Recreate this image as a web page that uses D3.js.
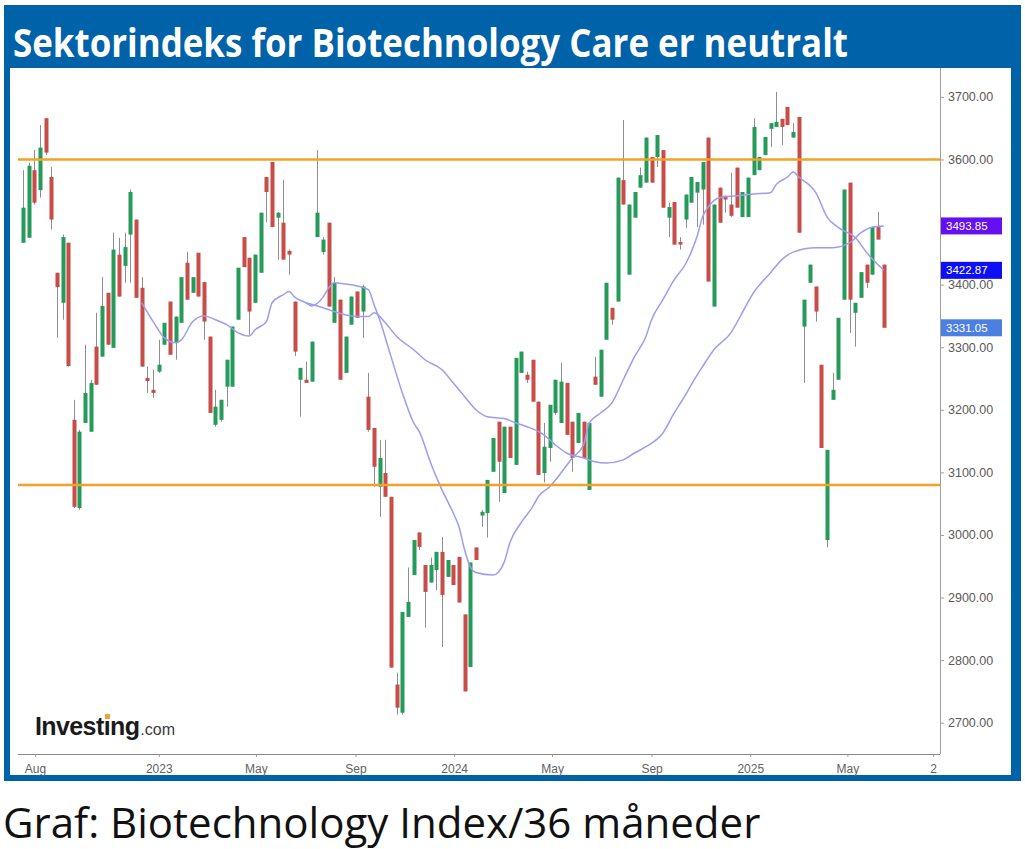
<!DOCTYPE html>
<html>
<head>
<meta charset="utf-8">
<script src="https://cdn.jsdelivr.net/npm/d3@7"></script>
<style>
  html, body { margin: 0; padding: 0; background: #fff; }
  svg { display: block; }
</style>
</head>
<body>
<svg id="chart" width="1025" height="849"></svg>
<script>
// ---------------- DATA ----------------
const titleText = "Sektorindeks for Biotechnology Care er neutralt";
const captionText = "Graf: Biotechnology Index/36 måneder";
const firstWeek = "2022-07-17";

const opens = [3467,3475,3583,3551,3666,3572,3419,3371,3467,3184,3043,3179,3165,3301,3285,3387,3299,3448,3430,3480,
  3504,3395,3251,3232,3261,3304,3373,3307,3339,3435,3387,3451,3404,3317,3176,3184,3237,3237,3344,3476,
  3443,3371,3419,3572,3596,3507,3499,3454,3373,3248,3248,3245,3476,3452,3499,3339,3376,3259,3336,3389,
  3357,3221,3171,3077,3099,3061,2761,2716,2869,2936,3004,2952,2924,2944,2973,2933,2952,2965,2873,2789,
  2980,3031,3035,3101,3181,3067,3173,3112,3259,3256,3280,3213,3099,3139,3195,3179,3243,3181,3147,3181,
  3072,3253,3221,3312,3363,3373,3567,3416,3507,3555,3563,3604,3604,3615,3507,3532,3468,3504,3531,3547,
  3552,3635,3365,3555,3542,3528,3587,3508,3508,3575,3583,3607,3649,3652,3665,3684,3635,3668,3333,3403,
  3397,3272,2992,3216,3248,3376,3563,3355,3379,3432,3416,3492,3432];
const highs = [3583,3595,3615,3655,3666,3588,3419,3480,3467,3216,3168,3304,3248,3355,3412,3387,3483,3475,3483,3552,
  3504,3412,3269,3264,3312,3339,3373,3349,3412,3452,3412,3451,3404,3317,3232,3216,3280,3333,3427,3476,
  3443,3448,3515,3572,3596,3516,3567,3456,3373,3267,3277,3309,3615,3476,3499,3412,3376,3317,3381,3389,
  3400,3259,3171,3152,3152,3061,2780,2877,2948,2992,3004,2952,2964,2973,2997,2960,2952,2965,2873,2956,
  2980,3040,3088,3155,3181,3173,3173,3283,3293,3261,3280,3213,3179,3208,3248,3275,3243,3181,3195,3181,
  3179,3285,3296,3403,3363,3571,3663,3528,3548,3587,3635,3604,3639,3615,3531,3532,3476,3544,3572,3564,
  3596,3635,3528,3555,3542,3579,3587,3548,3571,3666,3604,3636,3658,3708,3665,3684,3658,3668,3376,3432,
  3397,3272,3136,3259,3347,3552,3563,3371,3420,3432,3492,3516,3432];
const lows = [3467,3475,3528,3539,3607,3488,3315,3344,3269,3043,3040,3179,3165,3240,3285,3304,3299,3381,3403,3403,
  3379,3269,3227,3219,3259,3304,3288,3280,3339,3376,3387,3381,3312,3195,3173,3181,3205,3237,3344,3428,
  3320,3371,3419,3500,3492,3440,3440,3416,3286,3189,3243,3245,3476,3448,3365,3339,3248,3259,3336,3347,
  3315,3165,3077,3029,3061,2788,2713,2713,2869,2936,2976,2852,2924,2912,2821,2933,2920,2892,2750,2789,
  2960,3013,2996,3101,3053,3067,3123,3112,3259,3243,3213,3096,3084,3117,3192,3179,3160,3101,3147,3123,
  3072,3240,3221,3312,3336,3373,3528,3416,3507,3555,3563,3563,3588,3523,3476,3464,3456,3491,3531,3492,
  3496,3405,3365,3499,3515,3508,3523,3508,3508,3575,3583,3607,3620,3652,3623,3655,3635,3483,3243,3403,
  3341,3139,2980,3216,3248,3376,3323,3301,3379,3395,3416,3472,3333];
const closes = [3523,3590,3531,3619,3611,3504,3396,3476,3270,3045,3165,3227,3243,3240,3366,3304,3456,3381,3460,3548,
  3379,3269,3246,3227,3272,3339,3288,3349,3412,3376,3412,3381,3341,3195,3205,3216,3280,3333,3427,3428,
  3357,3448,3515,3548,3492,3515,3440,3448,3293,3267,3243,3309,3515,3472,3365,3403,3248,3317,3381,3347,
  3397,3168,3109,3123,3061,2788,2724,2877,2893,2992,2981,2909,2952,2973,2904,2960,2920,2892,2750,2956,
  2960,3037,3088,3155,3117,3173,3123,3283,3293,3248,3213,3096,3141,3208,3248,3245,3160,3123,3195,3123,
  3179,3240,3296,3403,3344,3571,3528,3528,3548,3575,3635,3563,3639,3523,3524,3464,3464,3544,3572,3564,
  3596,3405,3528,3499,3536,3510,3523,3548,3571,3652,3604,3636,3658,3660,3652,3655,3644,3483,3376,3432,
  3357,3139,3136,3232,3347,3552,3376,3371,3420,3403,3492,3472,3331.05];

// moving averages (week number, value)
const maFastWeek = [21,23,25,27,28,30,32,34,36,38,40,41,43,44,46,47,48,50,51,53,54,55,57,59,61,62,63,65,67,69,
  70,72,74,76,77,78,79,80,83,84,85,86,88,90,91,93,95,97,99,100,102,104,106,108,110,111,113,115,117,118,
  119,120,121,123,126,129,132,133,135,136,137,140,142,144,147,149,152];
const maFastValue = [3371,3341,3315,3307,3312,3341,3350,3344,3336,3323,3318,3328,3341,3371,3384,3389,3380,3371,3366,3380,
  3395,3403,3401,3398,3392,3368,3344,3285,3227,3179,3165,3115,3072,3035,3013,2976,2949,2940,2936,2941,
  2957,2988,3020,3045,3061,3077,3099,3123,3144,3179,3195,3211,3248,3285,3317,3344,3376,3408,3433,3452,
  3476,3508,3524,3539,3542,3545,3547,3560,3572,3580,3572,3547,3508,3491,3475,3451,3422.87];
const maSlowWeek = [50,53,55,58,61,62,64,66,69,71,74,76,78,80,82,85,87,89,92,94,96,99,101,103,106,108,110,113,115,117,
  118,120,122,125,127,129,132,134,136,140,143,146,148,150,152];
const maSlowValue = [3371,3363,3357,3350,3349,3355,3339,3317,3296,3280,3264,3243,3221,3200,3189,3186,3179,3173,3160,3144,
  3131,3123,3117,3115,3120,3131,3141,3163,3195,3224,3240,3269,3296,3323,3355,3387,3419,3440,3452,3459,
  3459,3467,3483,3492,3493.85];

const levelValues = [3600, 3080];
const yTickValues = [2700, 2800, 2900, 3000, 3100, 3200, 3300, 3400, 3500, 3600, 3700];
const yHiddenLabels = [3500]; // covered by the price tag in the reference
const xTickDates = ["2022-08-01","2023-01-01","2023-05-01","2023-09-01","2024-01-01","2024-05-01","2024-09-01","2025-01-01","2025-05-01","2025-08-15"];
const xTickLabels = ["Aug","2023","May","Sep","2024","May","Sep","2025","May","2"];
const tagValues = [3493.85, 3422.87, 3331.05];
const tagColors = ["#6410f0", "#0f0ff5", "#4d7fe3"];

// ---------------- DRAW ----------------
const svg = d3.select("#chart");
const W = 1025, H = 849;
const parse = d3.timeParse("%Y-%m-%d");

svg.append("rect").attr("width", W).attr("height", H).attr("fill", "#fff");
// blue frame
svg.append("rect").attr("x", 4).attr("y", 5).attr("width", 1017).attr("height", 776).attr("fill", "#0062a8");
svg.append("rect").attr("x", 10).attr("y", 68).attr("width", 1001).attr("height", 707).attr("fill", "#fff");

svg.append("text")
  .attr("x", 13).attr("y", 57)
  .attr("fill", "#fff")
  .attr("font-family", "'Open Sans', 'Noto Sans', sans-serif")
  .attr("font-weight", 700)
  .attr("font-size", 40)
  .attr("textLength", 835)
  .attr("lengthAdjust", "spacingAndGlyphs")
  .text(titleText);

svg.append("text")
  .attr("x", 3).attr("y", 838)
  .attr("fill", "#111")
  .attr("font-family", "'Open Sans', 'Noto Sans', sans-serif")
  .attr("font-size", 42)
  .text(captionText);

// scales
const x = d3.scaleTime()
  .domain([new Date(2022, 6, 11), new Date(2025, 7, 21)])
  .range([18, 938]);
const y = d3.scaleLinear().domain([2650, 3743]).range([754, 70]);

const start = parse(firstWeek);
const dates = d3.timeWeek.range(start, d3.timeWeek.offset(start, opens.length));
const candles = opens.map((o, i) => ({ date: dates[i], o, h: highs[i], l: lows[i], c: closes[i] }));

// axes
const fmt2 = d3.format(".2f");
const yAxis = d3.axisRight(y).tickValues(yTickValues)
  .tickFormat(d => yHiddenLabels.includes(d) ? "" : fmt2(d))
  .tickSize(4).tickPadding(4);
const gy = svg.append("g").attr("transform", "translate(940,0)").call(yAxis);
gy.select(".domain").attr("d", "M0.5,68V754").attr("stroke", "#a0a0a0");
gy.selectAll(".tick line").attr("stroke", "#a0a0a0");
gy.selectAll(".tick text").attr("fill", "#5a5a5a").attr("font-size", 12.5)
  .attr("font-family", "'Liberation Sans', Arial, sans-serif");

const xAxis = d3.axisBottom(x)
  .tickValues(xTickDates.map(parse))
  .tickFormat((d, i) => xTickLabels[i])
  .tickSizeInner(3).tickSizeOuter(0).tickPadding(7);
const gx = svg.append("g").attr("transform", "translate(0,754)").call(xAxis);
gx.select(".domain").attr("d", "M18,0.5H940").attr("stroke", "#8a8a8a");
gx.selectAll(".tick line").attr("stroke", "#9a9a9a");
gx.selectAll(".tick text").attr("fill", "#5f5f5f").attr("font-size", 12)
  .attr("font-family", "'Liberation Sans', Arial, sans-serif");

// logo (single text with two spans)
const logo = svg.append("text").attr("x", 35).attr("y", 735)
  .attr("font-family", "'Liberation Sans', Arial, sans-serif");
logo.append("tspan").attr("font-weight", 700).attr("font-size", 25)
  .attr("letter-spacing", -0.6).attr("fill", "#1b1b1b").text("Investing");
logo.append("tspan").attr("font-size", 16).attr("dx", 1).attr("fill", "#3a3a3a").text(".com");
svg.append("rect").attr("x", 105).attr("y", 714).attr("width", 5).attr("height", 5).attr("fill", "#f0a030");

// candles
const green = "#259a5a", red = "#c84c48";
const gc = svg.append("g");
gc.selectAll("line.wick").data(candles).join("line")
  .attr("class", "wick")
  .attr("x1", d => Math.round(x(d.date)) + 0.5)
  .attr("x2", d => Math.round(x(d.date)) + 0.5)
  .attr("y1", d => y(d.h)).attr("y2", d => y(d.l))
  .attr("stroke", "#8e8e8e").attr("stroke-width", 1);
gc.selectAll("rect.body").data(candles).join("rect")
  .attr("class", "body")
  .attr("x", d => Math.round(x(d.date)) - 1.5)
  .attr("width", 4)
  .attr("y", d => y(Math.max(d.o, d.c)))
  .attr("height", d => Math.max(1.5, Math.abs(y(d.o) - y(d.c))))
  .attr("fill", d => d.c >= d.o ? green : red);

// moving averages
const line = d3.line().x(d => x(d.date)).y(d => y(d.v)).curve(d3.curveMonotoneX);
const fast = maFastWeek.map((w, i) => ({ date: dates[w], v: maFastValue[i] }));
const slow = maSlowWeek.map((w, i) => ({ date: dates[w], v: maSlowValue[i] }));
[fast, slow].forEach(s => {
  svg.append("path").datum(s).attr("d", line)
    .attr("fill", "none").attr("stroke", "#9c9cf0").attr("stroke-width", 1.5);
});

// horizontal levels
svg.selectAll("line.level").data(levelValues).join("line")
  .attr("class", "level")
  .attr("x1", 18).attr("x2", 940)
  .attr("y1", d => y(d)).attr("y2", d => y(d))
  .attr("stroke", "#f3a226").attr("stroke-width", 2.5);

// price tags
const tags = svg.append("g");
tagValues.forEach((v, i) => {
  tags.append("rect").attr("x", 941).attr("y", y(v) - 8.5).attr("width", 61).attr("height", 17)
    .attr("fill", tagColors[i]);
  tags.append("text").attr("x", 946).attr("y", y(v)).attr("dy", "0.35em")
    .attr("fill", "#fff").attr("font-size", 11.5)
    .attr("font-family", "'Liberation Sans', Arial, sans-serif")
    .text(fmt2(v));
});
</script>
</body>
</html>
